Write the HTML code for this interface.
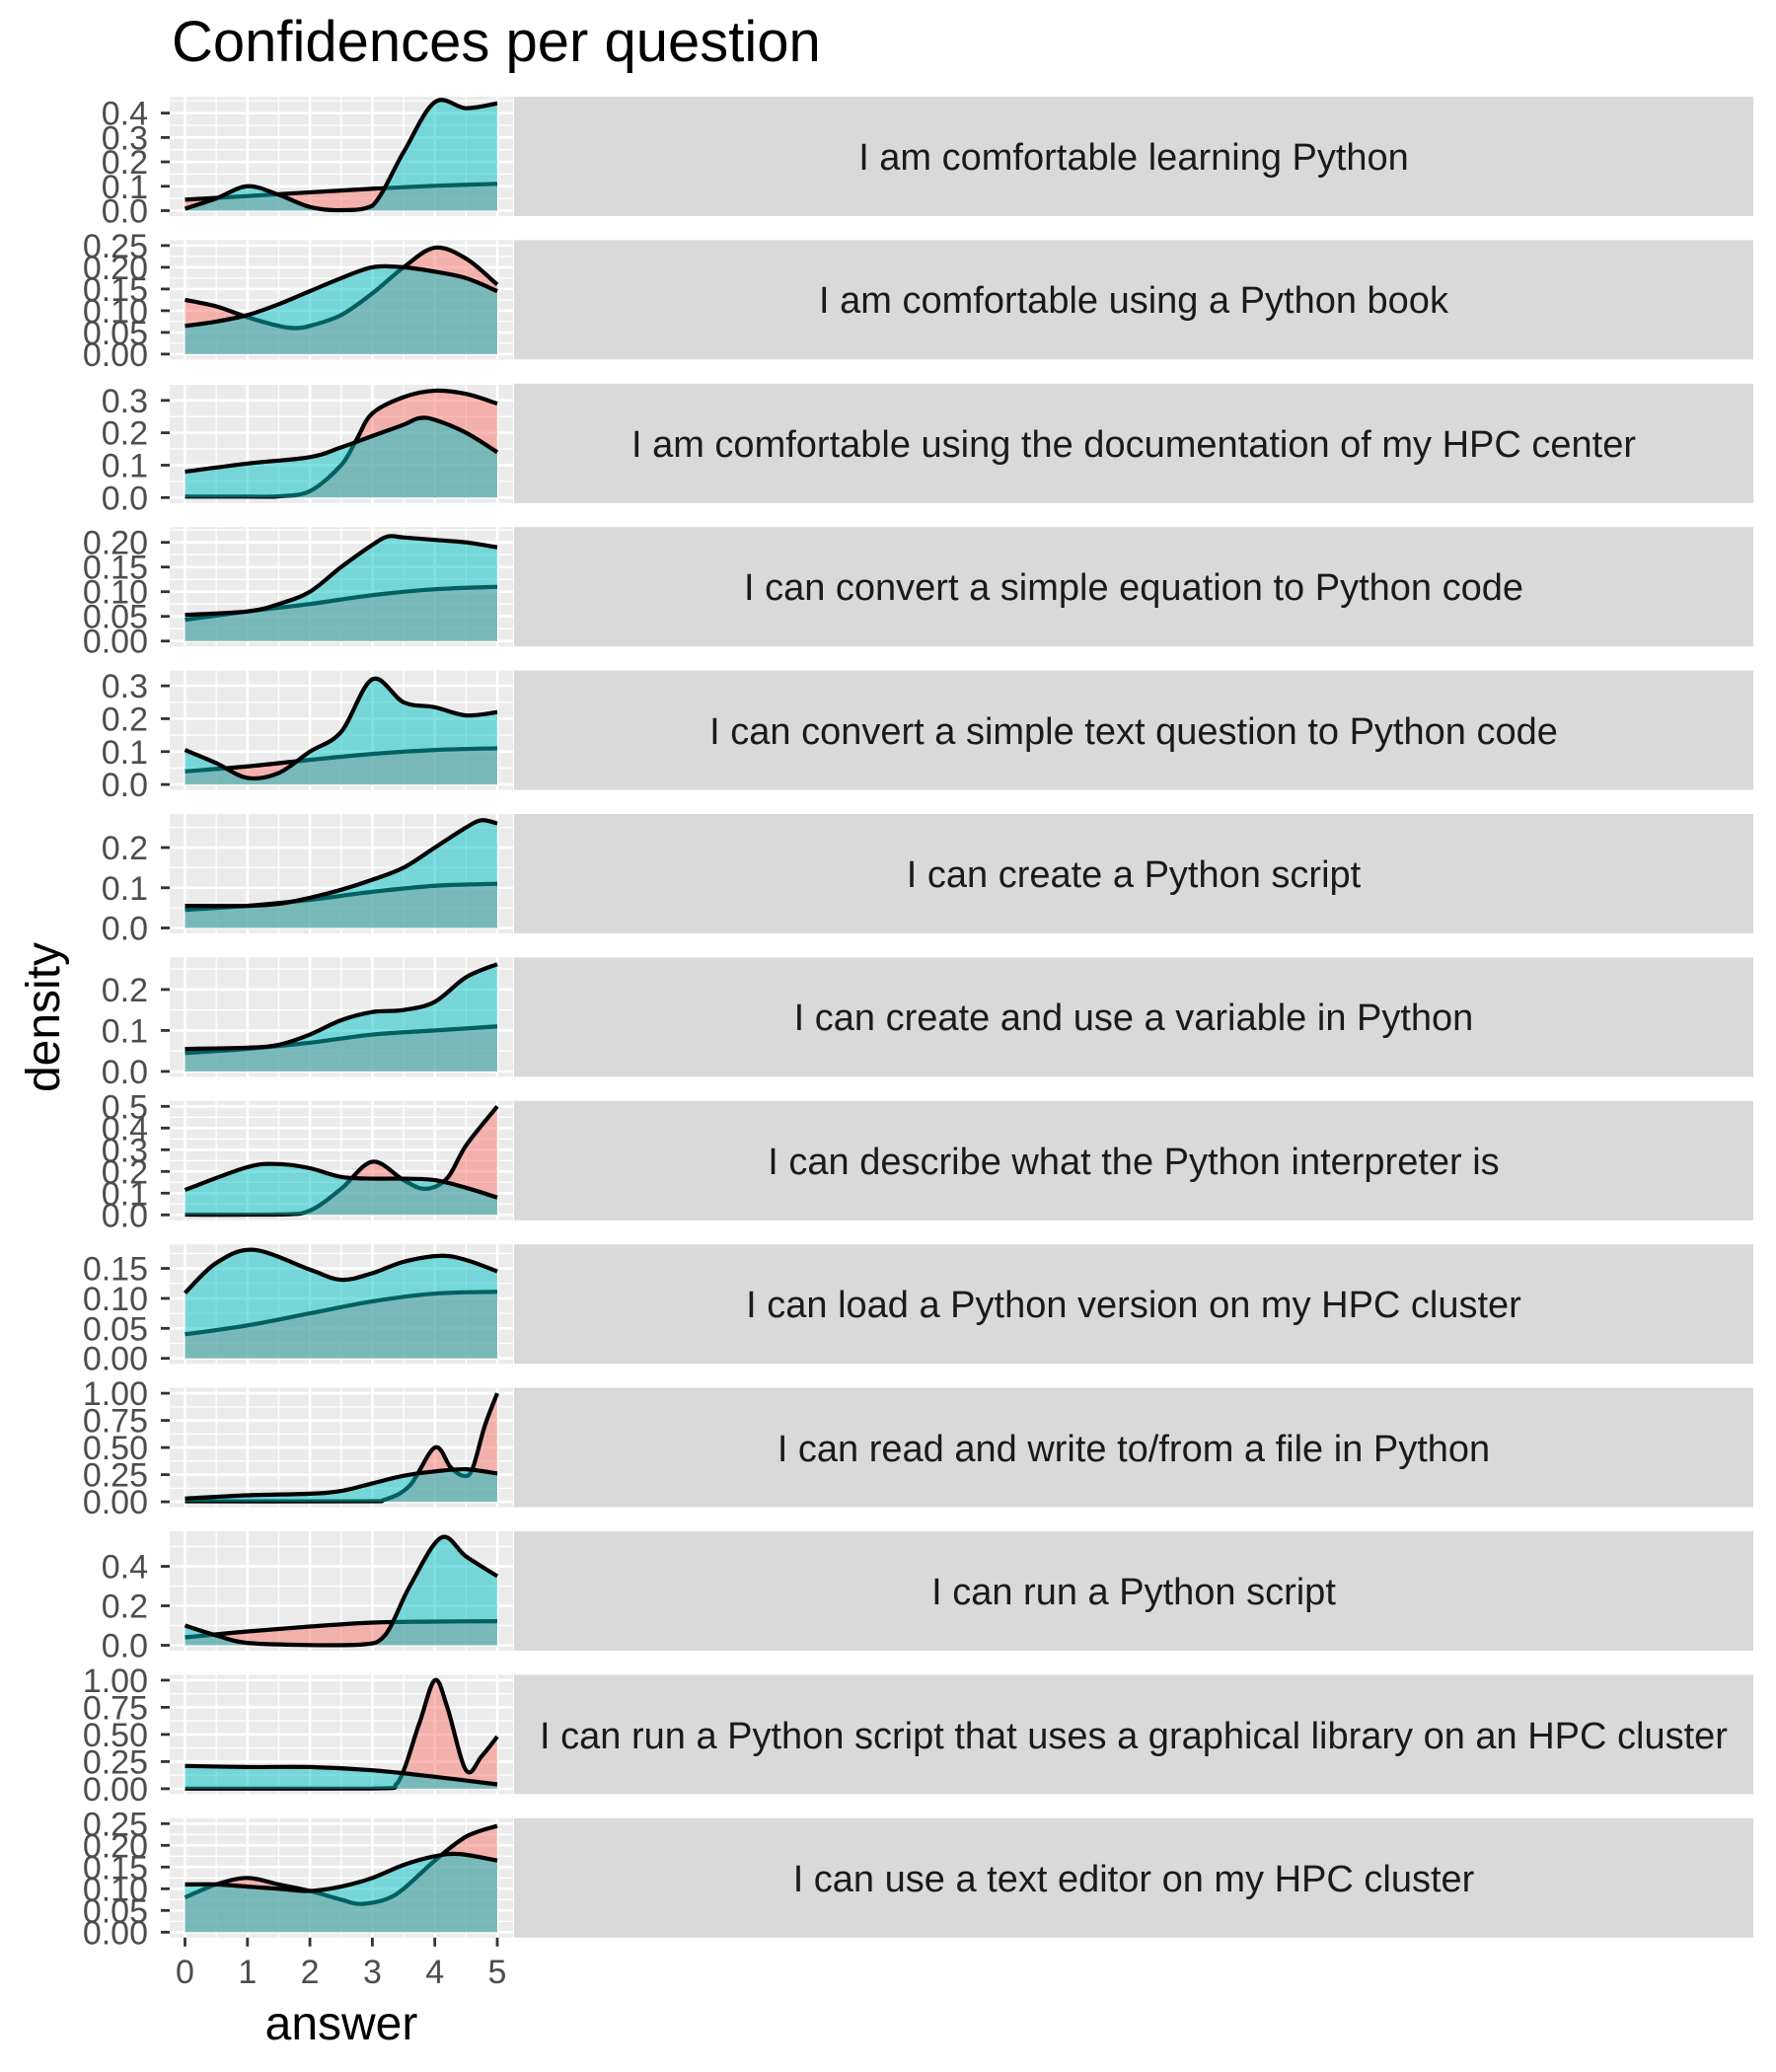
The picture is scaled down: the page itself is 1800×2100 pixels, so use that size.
<!DOCTYPE html>
<html><head><meta charset="utf-8"><style>
html,body{margin:0;padding:0;background:#fff}
svg{display:block}
text{font-family:"Liberation Sans",sans-serif}
.yt text{font-size:34px;fill:#4D4D4D;text-anchor:end}
.st{font-size:38px;fill:#1A1A1A;text-anchor:middle}
</style></head><body>
<svg id="s" width="1800" height="2100" xmlns="http://www.w3.org/2000/svg">
<g id="bg"></g>
<text x="174" y="62" style="font-size:58px;fill:#000">Confidences per question</text>
<text transform="translate(60,1031) rotate(-90)" style="font-size:48px;fill:#000;text-anchor:middle">density</text>
<text x="346" y="2067" style="font-size:48px;fill:#000;text-anchor:middle">answer</text>
<g style="font-size:34px;fill:#4D4D4D;text-anchor:middle">
<text x="187.5" y="2010">0</text><text x="250.8" y="2010">1</text><text x="314.1" y="2010">2</text><text x="377.4" y="2010">3</text><text x="440.7" y="2010">4</text><text x="504" y="2010">5</text>
</g>
<g class="st">
<text x="1149" y="172">I am comfortable learning Python</text>
<text x="1149" y="317">I am comfortable using a Python book</text>
<text x="1149" y="463">I am comfortable using the documentation of my HPC center</text>
<text x="1149" y="608">I can convert a simple equation to Python code</text>
<text x="1149" y="754">I can convert a simple text question to Python code</text>
<text x="1149" y="899">I can create a Python script</text>
<text x="1149" y="1044">I can create and use a variable in Python</text>
<text x="1149" y="1190">I can describe what the Python interpreter is</text>
<text x="1149" y="1335">I can load a Python version on my HPC cluster</text>
<text x="1149" y="1481">I can read and write to/from a file in Python</text>
<text x="1149" y="1626">I can run a Python script</text>
<text x="1149" y="1772">I can run a Python script that uses a graphical library on an HPC cluster</text>
<text x="1149" y="1917">I can use a text editor on my HPC cluster</text>
</g>
<g class="yt"><text>0.0</text><text>0.1</text><text>0.2</text><text>0.3</text><text>0.4</text></g>
<g class="yt"><text>0.00</text><text>0.05</text><text>0.10</text><text>0.15</text><text>0.20</text><text>0.25</text></g>
<g class="yt"><text>0.0</text><text>0.1</text><text>0.2</text><text>0.3</text></g>
<g class="yt"><text>0.00</text><text>0.05</text><text>0.10</text><text>0.15</text><text>0.20</text></g>
<g class="yt"><text>0.0</text><text>0.1</text><text>0.2</text><text>0.3</text></g>
<g class="yt"><text>0.0</text><text>0.1</text><text>0.2</text></g>
<g class="yt"><text>0.0</text><text>0.1</text><text>0.2</text></g>
<g class="yt"><text>0.0</text><text>0.1</text><text>0.2</text><text>0.3</text><text>0.4</text><text>0.5</text></g>
<g class="yt"><text>0.00</text><text>0.05</text><text>0.10</text><text>0.15</text></g>
<g class="yt"><text>0.00</text><text>0.25</text><text>0.50</text><text>0.75</text><text>1.00</text></g>
<g class="yt"><text>0.0</text><text>0.2</text><text>0.4</text></g>
<g class="yt"><text>0.00</text><text>0.25</text><text>0.50</text><text>0.75</text><text>1.00</text></g>
<g class="yt"><text>0.00</text><text>0.05</text><text>0.10</text><text>0.15</text><text>0.20</text><text>0.25</text></g>
</svg>
<script>
var S="http://www.w3.org/2000/svg",svg=document.getElementById('s'),bg=document.getElementById('bg');
function el(t,a,p){var e=document.createElementNS(S,t);for(var k in a)e.setAttribute(k,a[k]);(p||bg).appendChild(e);return e;}
var P=[
{m:0.445,st:0.1,p:[[0,.045],[1,.06],[2,.075],[3,.09],[4,.102],[5,.11]],c:[[0,.008],[.5,.05],[1,.1],[1.5,.065],[2,.015],[2.5,.002],[3,.02],[3.5,.24],[4,.445],[4.5,.42],[5,.44]]},
{m:0.25,st:0.05,p:[[0,.125],[.5,.11],[1,.085],[1.5,.065],[1.75,.06],[2,.065],[2.5,.09],[3,.14],[3.5,.2],[4,.245],[4.5,.22],[5,.16]],c:[[0,.065],[.5,.075],[1,.09],[1.5,.115],[2,.145],[2.5,.175],[3,.2],[3.5,.2],[4,.19],[4.5,.175],[5,.145]]},
{m:0.335,st:0.1,p:[[0,.003],[1,.003],[1.5,.004],[2,.02],[2.5,.1],[2.75,.18],[3,.26],[3.5,.31],[4,.33],[4.5,.32],[5,.29]],c:[[0,.08],[1,.105],[2,.125],[2.5,.155],[3,.19],[3.5,.225],[3.75,.245],[4,.24],[4.5,.2],[5,.14]]},
{m:0.22,st:0.05,p:[[0,.043],[1,.06],[2,.075],[3,.093],[4,.105],[5,.11]],c:[[0,.053],[1,.06],[1.5,.075],[2,.1],[2.5,.15],[3,.195],[3.25,.212],[3.5,.21],[4,.205],[4.5,.2],[5,.19]]},
{m:0.33,st:0.1,p:[[0,.04],[1,.055],[2,.075],[3,.093],[4,.105],[5,.11]],c:[[0,.105],[.5,.065],[1,.02],[1.5,.035],[2,.1],[2.5,.16],[3,.32],[3.5,.25],[4,.235],[4.5,.21],[5,.22]]},
{m:0.27,st:0.1,p:[[0,.045],[1,.055],[2,.07],[3,.09],[4,.105],[5,.11]],c:[[0,.055],[1,.055],[1.5,.06],[2,.075],[2.5,.095],[3,.12],[3.5,.15],[4,.2],[4.5,.25],[4.75,.268],[5,.26]]},
{m:0.265,st:0.1,p:[[0,.045],[1,.055],[2,.07],[3,.09],[4,.1],[5,.11]],c:[[0,.055],[1,.058],[1.5,.065],[2,.09],[2.5,.125],[3,.145],[3.5,.15],[4,.17],[4.5,.23],[5,.262]]},
{m:0.5,st:0.1,p:[[0,.001],[1.5,.002],[2,.02],[2.5,.12],[3,.245],[3.5,.16],[3.85,.12],[4.2,.17],[4.5,.32],[5,.5]],c:[[0,.115],[1,.22],[1.5,.234],[2,.215],[2.5,.175],[3,.167],[3.5,.167],[4,.16],[4.5,.125],[5,.08]]},
{m:0.181,st:0.05,p:[[0,.04],[1,.055],[2,.075],[3,.095],[4,.108],[5,.111]],c:[[0,.109],[.5,.159],[1.1,.181],[2,.148],[2.5,.131],[3,.142],[3.5,.161],[4.1,.171],[4.5,.164],[5,.145]]},
{m:1.0,st:0.25,p:[[0,.005],[2.8,.005],[3.2,.02],[3.6,.15],[4,.5],[4.25,.32],[4.45,.24],[4.6,.3],[4.8,.7],[5,1.0]],c:[[0,.03],[1,.06],[2,.075],[2.5,.1],[3,.17],[3.5,.24],[4,.28],[4.5,.3],[5,.26]]},
{m:0.55,st:0.2,p:[[0,.04],[1,.07],[2,.095],[3,.115],[4,.12],[5,.122]],c:[[0,.1],[.5,.05],[1,.012],[2,.001],[2.8,.003],[3.2,.05],[3.6,.3],[4.1,.545],[4.5,.45],[5,.35]]},
{m:1.0,st:0.25,p:[[0,.001],[3,.002],[3.4,.05],[3.75,.6],[4,1.0],[4.2,.75],[4.5,.17],[4.75,.3],[5,.48]],c:[[0,.21],[1,.2],[2,.2],[3,.17],[4,.11],[5,.04]]},
{m:0.25,st:0.05,p:[[0,.08],[.5,.11],[1,.125],[1.5,.11],[2,.095],[2.5,.075],[2.8,.065],[3.2,.075],[3.5,.1],[4,.165],[4.5,.22],[5,.245]],c:[[0,.11],[.5,.11],[1,.105],[1.5,.1],[2,.095],[2.5,.105],[3,.125],[3.5,.155],[4,.175],[4.4,.18],[5,.165]]}
];
var X0=187.5,XS=63.3,L=172,R=520;
function path(pts,tx,ty){var d='M'+tx(pts[0][0])+','+ty(pts[0][1]);
for(var i=0;i<pts.length-1;i++){var p0=pts[Math.max(i-1,0)],p1=pts[i],p2=pts[i+1],p3=pts[Math.min(i+2,pts.length-1)];
var c1x=p1[0]+(p2[0]-p0[0])/6,c1y=p1[1]+(p2[1]-p0[1])/6,c2x=p2[0]-(p3[0]-p1[0])/6,c2y=p2[1]-(p3[1]-p1[1])/6;
d+=' C'+tx(c1x)+','+ty(Math.max(c1y,0))+' '+tx(c2x)+','+ty(Math.max(c2y,0))+' '+tx(p2[0])+','+ty(p2[1]);}return d;}
var yts=document.querySelectorAll('.yt');
P.forEach(function(p,i){
 var T=98+145.4*i,B=T+121,y0=B-5.5,k=110/p.m;
 var ty=function(v){return (y0-v*k).toFixed(2)},tx=function(v){return (X0+v*XS).toFixed(2)};
 el('rect',{x:L,y:T,width:R-L,height:121,fill:'#EBEBEB'});
 el('rect',{x:521,y:T,width:1256,height:121,fill:'#D9D9D9'});
 for(var v=0;v<=p.m*1.06+p.st;v+=p.st/2){var yy=y0-v*k;if(yy<T||yy>B)continue;
  var maj=Math.abs(v/p.st-Math.round(v/p.st))<1e-6;
  el('line',{x1:L,x2:R,y1:yy,y2:yy,stroke:'#fff','stroke-width':maj?2.6:1.3});}
 for(var x=0;x<=5;x+=0.5){var xx=X0+x*XS;el('line',{x1:xx,x2:xx,y1:T,y2:B,stroke:'#fff','stroke-width':(x%1==0)?2.6:1.3});}
 [['p','rgba(248,118,109,0.5)'],['c','rgba(0,191,196,0.5)']].forEach(function(s){
  var pts=p[s[0]],d=path(pts,tx,ty);
  el('path',{d:d+' L'+tx(5)+','+y0+' L'+tx(0)+','+y0+' Z',fill:s[1]});
  el('path',{d:d,fill:'none',stroke:'#000','stroke-width':4.2,'stroke-linejoin':'round'});
 });
 var ts=yts[i].querySelectorAll('text');
 ts.forEach(function(t){var v=parseFloat(t.textContent),yy=y0-v*k;t.setAttribute('x',150);t.setAttribute('y',yy+12);
  el('line',{x1:163,x2:172,y1:yy,y2:yy,stroke:'#333','stroke-width':2.8});});
 if(i==12){for(var x=0;x<=5;x++){var xx=X0+x*XS;el('line',{x1:xx,x2:xx,y1:B,y2:B+9,stroke:'#333','stroke-width':2.8});}}
});
</script>
</body></html>
